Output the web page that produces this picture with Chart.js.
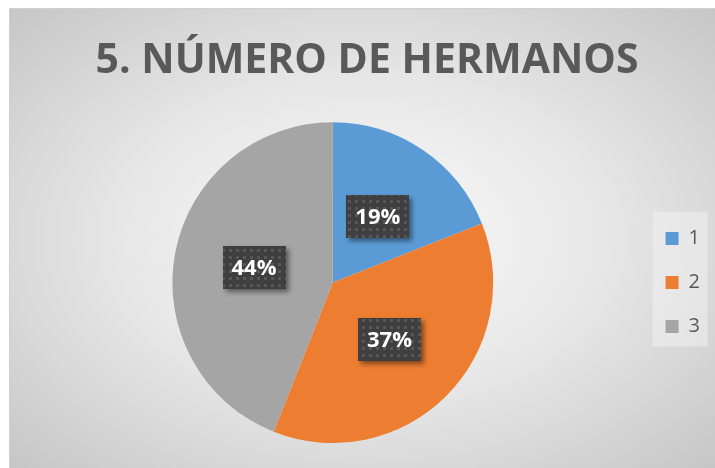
<!DOCTYPE html>
<html lang="es">
  <head>
    <meta charset="UTF-8" />
    <title>5. Número de hermanos</title>
    <script src="https://cdn.jsdelivr.net/npm/chart.js"></script>
    <style>
      html, body { margin: 0; padding: 0; background: #ffffff; }
      #chart-box {
        position: absolute;
        left: 9px;
        top: 8px;
        width: 706px;
        height: 460px;
        border-top: 1px solid #d0d0d0;
        border-left: 1px solid #d0d0d0;
        box-sizing: border-box;
        background: radial-gradient(ellipse farthest-corner at 50% 50%, #fbfbfb 0%, #e6e6e6 50%, #c6c6c6 100%);
      }
      canvas { display: block; }
    </style>
  </head>
  <body>
    <div id="chart-box">
      <canvas id="pie" width="705" height="459"></canvas>
    </div>

    <script>
      // datos del gráfico
      const categorias = ["1", "2", "3"];
      const porcentajes = [19, 37, 44];
      const colores = ["#5B9BD5", "#ED7D31", "#A5A5A5"];
      const titulo = "5. NÚMERO DE HERMANOS";

      // textura oscura con puntitos para las etiquetas
      function patronEtiqueta(ctx) {
        const c = document.createElement("canvas");
        c.width = 7;
        c.height = 7;
        const p = c.getContext("2d");
        p.fillStyle = "#3f3f3f";
        p.fillRect(0, 0, 7, 7);
        p.fillStyle = "#575757";
        p.fillRect(2, 2, 3, 3);
        return ctx.createPattern(c, "repeat");
      }

      const fondoLeyenda = {
        id: "fondoLeyenda",
        beforeDraw(chart) {
          const lg = chart.legend;
          if (!lg || !lg.legendHitBoxes.length) return;
          const first = lg.legendHitBoxes[0];
          const ctx = chart.ctx;
          ctx.save();
          ctx.fillStyle = "rgba(240,240,240,0.55)";
          ctx.fillRect(first.left - 13, first.top - 17, 55, 135);
          ctx.restore();
        },
      };

      const etiquetas = {
        id: "etiquetas",
        afterDatasetsDraw(chart) {
          const ctx = chart.ctx;
          const meta = chart.getDatasetMeta(0);
          const data = chart.data.datasets[0].data;
          const total = data.reduce((a, b) => a + b, 0);
          const fill = patronEtiqueta(ctx);
          meta.data.forEach((arc, i) => {
            const pt = arc.getCenterPoint();
            const w = 63;
            const h = 43;
            const x = Math.round(pt.x - w / 2);
            const y = Math.round(pt.y - h / 2);
            ctx.save();
            ctx.shadowColor = "rgba(0,0,0,0.45)";
            ctx.shadowBlur = 5;
            ctx.shadowOffsetX = 3;
            ctx.shadowOffsetY = 3;
            ctx.fillStyle = fill;
            ctx.fillRect(x, y, w, h);
            ctx.restore();
            ctx.save();
            ctx.fillStyle = "#ffffff";
            ctx.font = "bold 22px 'Open Sans'";
            ctx.textAlign = "center";
            ctx.textBaseline = "middle";
            const txt = Math.round((data[i] / total) * 100) + "%";
            ctx.fillText(txt, pt.x, pt.y + 1);
            ctx.restore();
          });
        },
      };

      const ctx = document.getElementById("pie").getContext("2d");
      new Chart(ctx, {
        type: "pie",
        data: {
          labels: categorias,
          datasets: [
            {
              data: porcentajes,
              backgroundColor: colores,
              borderWidth: 0,
            },
          ],
        },
        options: {
          responsive: false,
          animation: false,
          layout: { padding: { left: 14, right: 5, top: 0, bottom: 25 } },
          plugins: {
            title: {
              display: true,
              text: titulo,
              color: "#595959",
              font: { family: "'Open Sans'", size: 41, weight: "bold" },
              padding: { top: 28, bottom: 36 },
            },
            legend: {
              position: "right",
              fullSize: false,
              labels: {
                boxWidth: 13,
                boxHeight: 13,
                padding: 24,
                color: "#595959",
                font: { family: "'Open Sans'", size: 20 },
              },
            },
            tooltip: { enabled: false },
          },
        },
        plugins: [fondoLeyenda, etiquetas],
      });
    </script>
  </body>
</html>
